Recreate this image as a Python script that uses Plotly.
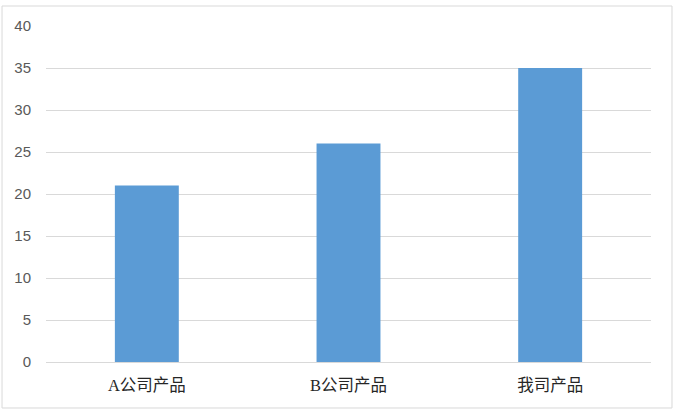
import plotly.graph_objects as go

categories = ["A公司产品", "B公司产品", "我司产品"]
values = [21, 26, 35]
y_ticks = [0, 5, 10, 15, 20, 25, 30, 35, 40]

fig = go.Figure()
fig.add_trace(go.Bar(
    x=categories, y=values,
    marker={"color": "#5B9BD5", "line": {"width": 0}},
    width=0.317,
))

# outer chart border (Excel-style)
fig.add_shape(
    type="rect", xref="paper", yref="paper",
    x0=-0.0727, x1=1.0347, y0=-0.1369, y1=1.0595,
    line={"color": "#D9D9D9", "width": 1}, fillcolor="rgba(0,0,0,0)",
    layer="below",
)

fig.update_xaxes(
    showline=True, linecolor="#D9D9D9", linewidth=1,
    showgrid=False, ticks="", ticklabelstandoff=8,
    tickfont={"family": "Liberation Serif, Noto Sans CJK SC", "size": 16.5, "color": "#262626"},
)
fig.update_yaxes(
    range=[0, 40], tickvals=y_ticks,
    showgrid=True, gridcolor="#D9D9D9", gridwidth=1,
    zeroline=False, ticks="", ticklabelstandoff=14,
    tickfont={"family": "Liberation Sans, Arial", "size": 15, "color": "#595959"},
)
fig.update_layout(
    width=676, height=413,
    margin={"l": 46, "r": 25, "t": 26, "b": 51},
    plot_bgcolor="white", paper_bgcolor="white",
    showlegend=False,
)

# page body has a default 8px margin; drop it so the figure sits at (0, 0)
fig.write_html(
    "out.html",
    config={"displayModeBar": False},
    post_script="document.body.style.margin='0';",
)
